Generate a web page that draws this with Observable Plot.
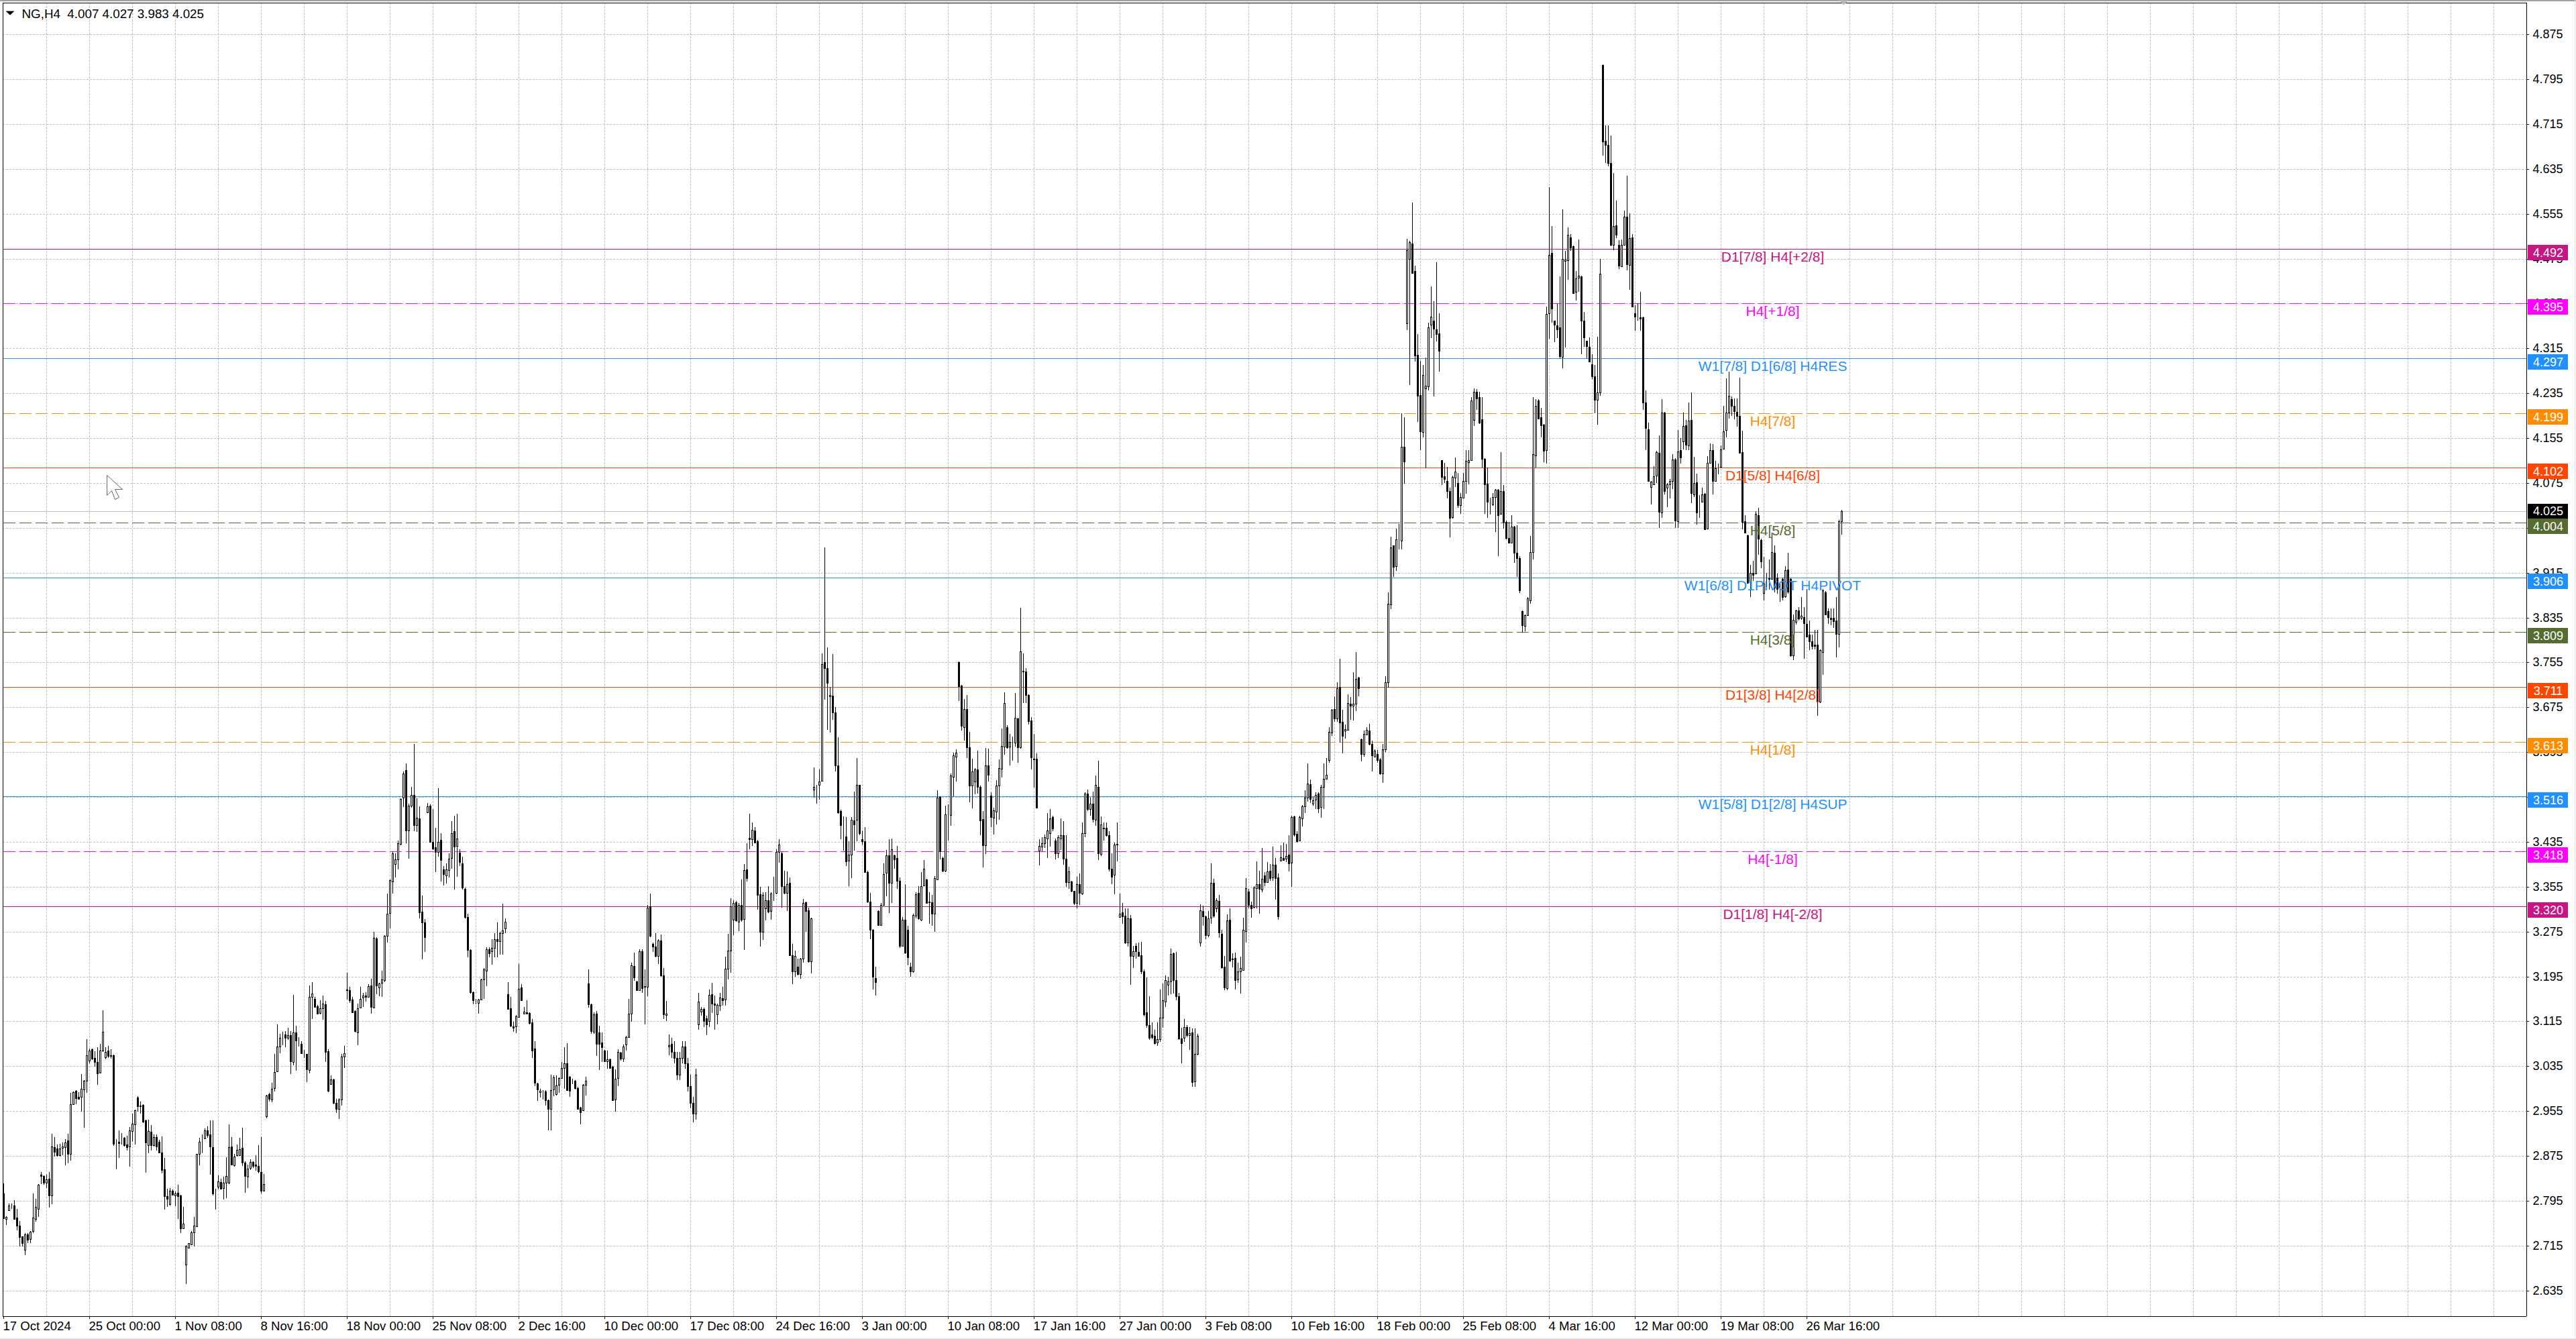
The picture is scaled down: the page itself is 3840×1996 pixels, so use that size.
<!DOCTYPE html>
<html><head><meta charset="utf-8">
<script src="https://cdn.jsdelivr.net/npm/d3@7"></script>
<script src="https://cdn.jsdelivr.net/npm/@observablehq/plot@0.6"></script>
<style>html,body{margin:0;padding:0;background:#fff}svg{display:block}</style>
</head><body><div id="chart"></div>
<script>
// every row: [open, close, high, low] in thousandths of the quote
const candlesOct=[[2808,2764,2826,2762],[2763,2766,2767,2752],[2778,2786,2790,2777],[2785,2785,2790,2780],[2786,2763,2796,2762],[2765,2750,2780,2742],[2751,2730,2759,2714],[2731,2719,2732,2713],[2707,2735,2737,2698],[2735,2726,2737,2719],[2727,2740,2741,2719],[2741,2765,2808,2737],[2763,2784,2799,2758],[2781,2823,2825,2766],[2842,2839,2846,2825],[2839,2827,2840,2824],[2827,2833,2841,2818],[2834,2804,2846,2783],[2804,2892,2915,2789],[2891,2882,2909,2874],[2888,2876,2895,2874],[2876,2888,2897,2874],[2889,2892,2899,2876],[2891,2899,2905,2858],[2902,2878,2915,2862],[2878,2967,2988,2867],[2967,2989,2990,2966],[2991,2978,2992,2967],[2980,2977,2989,2975],[2980,2995,3021,2954],[2994,3009,3010,2925],[3009,3054,3083,2988],[3045,3063,3066,3040],[3065,3049,3066,3046],[3050,3043,3062,3034],[3043,3022,3069,3002],[3023,3063,3075,3022],[3063,3096,3135,3061],[3051,3061,3069,3047],[3063,3053,3071,3050],[3055,3053,3065,3049],[3055,2897,3056,2893],[2899,2899,2905,2851],[2900,2898,2921,2872],[2907,2907,2916,2895],[2907,2894,2908,2892],[2895,2890,2911,2884],[2892,2920,2927,2856],[2919,2933,2950,2900],[2931,2956,2957,2895],[2979,2964,2981,2954],[2965,2963,2972,2950],[2966,2936,2967,2934],[2939,2899,2940,2845],[2894,2919,2940,2880],[2918,2894,2930,2885],[2894,2909,2913,2892],[2908,2892,2913,2885],[2900,2881,2904,2880],[2881,2850,2910,2844]];
const candlesNov=[[2851,2803,2872,2779],[2803,2798,2816,2784],[2789,2813,2817,2786],[2813,2806,2815,2804],[2805,2808,2812,2785],[2809,2803,2823,2762],[2805,2746,2806,2738],[2746,2754,2784,2745],[2681,2714,2716,2647],[2711,2719,2720,2710],[2717,2739,2741,2716],[2739,2750,2766,2713],[2749,2878,2879,2748],[2879,2900,2907,2858],[2907,2907,2913,2880],[2906,2920,2924,2905],[2920,2912,2928,2907],[2913,2892,2938,2841],[2891,2808,2938,2805],[2808,2808,2816,2779],[2820,2830,2840,2815],[2828,2816,2834,2815],[2817,2827,2838,2797],[2827,2839,2873,2800],[2827,2891,2931,2825],[2892,2860,2909,2858],[2858,2874,2878,2856],[2876,2886,2895,2874],[2876,2887,2907,2875],[2889,2863,2925,2857],[2863,2839,2866,2809],[2838,2852,2860,2818],[2853,2864,2869,2850],[2864,2857,2866,2853],[2859,2857,2876,2849],[2857,2848,2894,2844],[2846,2813,2909,2808],[2813,2825,2843,2811],[2946,2983,2984,2942],[2985,2977,2987,2972],[2975,2995,3005,2971],[2996,3025,3057,2990],[3026,3070,3110,3025],[3070,3085,3093,3058],[3090,3090,3096,3072],[3091,3085,3097,3069],[3086,3090,3104,3082],[3090,3044,3098,3021],[3043,3095,3162,3037],[3095,3081,3107,3027],[3077,3077,3087,3070],[3075,3058,3080,3058],[3057,3057,3064,3050],[3057,3029,3057,3007],[3028,3158,3179,3022],[3158,3165,3185,3119],[3155,3141,3158,3139],[3142,3129,3144,3128],[3130,3138,3153,3128],[3138,3146,3161,3118],[3145,3060,3151,3042],[3062,2991,3065,2989],[3003,3011,3019,3002],[3011,2970,3012,2967],[2970,2959,2977,2952],[2959,2976,2978,2941],[2976,3052,3057,2965],[3052,3058,3071,3032]];
const candlesDec=[[3170,3172,3201,3154],[3171,3153,3176,3148],[3154,3131,3158,3130],[3134,3097,3135,3095],[3095,3138,3146,3072],[3139,3155,3177,3138],[3157,3161,3166,3141],[3161,3158,3167,3150],[3159,3178,3181,3158],[3179,3141,3191,3129],[3139,3264,3275,3138],[3263,3179,3265,3163],[3175,3182,3184,3160],[3184,3190,3205,3159],[3188,3267,3269,3185],[3267,3307,3343,3256],[3308,3367,3368,3280],[3364,3414,3417,3343],[3395,3404,3415,3372],[3404,3433,3437,3386],[3431,3512,3513,3429],[3514,3557,3561,3497],[3563,3455,3575,3433],[3455,3500,3503,3405],[3500,3519,3533,3496],[3519,3465,3610,3454],[3465,3478,3513,3453],[3477,3309,3498,3298],[3310,3291,3339,3226],[3291,3265,3297,3239],[3487,3498,3504,3486],[3500,3435,3502,3434],[3435,3423,3493,3421],[3425,3417,3460,3381],[3417,3435,3531,3409],[3438,3403,3450,3364],[3386,3377,3392,3357],[3375,3386,3396,3361],[3385,3405,3414,3371],[3406,3451,3472,3387],[3454,3427,3482,3350],[3428,3441,3485,3373],[3416,3399,3422,3392],[3397,3353,3408,3350],[3351,3301,3353,3298],[3301,3242,3307,3229],[3242,3167,3243,3164],[3167,3153,3168,3145],[3154,3154,3155,3145],[3148,3154,3155,3129],[3154,3190,3191,3152],[3190,3207,3210,3155],[3205,3243,3247,3178],[3243,3236,3247,3229],[3240,3246,3261,3216],[3246,3262,3272,3229],[3261,3258,3291,3229],[3258,3272,3275,3234],[3272,3277,3325,3234],[3281,3293,3298,3272]];
const candlesJan1=[[3163,3137,3185,3136],[3138,3107,3158,3105],[3106,3103,3114,3096],[3106,3124,3126,3094],[3123,3173,3217,3122],[3175,3152,3181,3151],[3129,3132,3140,3129],[3131,3129,3152,3128],[3130,3112,3131,3110],[3113,3063,3119,3050],[3067,3005,3080,2999],[3004,2994,3005,2973],[2989,2991,2995,2979],[2990,2990,2992,2976],[2990,2974,2992,2965],[2974,2959,2975,2921],[2959,2992,3020,2920],[2994,3015,3018,2981],[2985,3001,3018,2983],[3002,3014,3015,2988],[3014,3032,3043,3013],[3032,3040,3069,2995],[3040,2992,3076,2991],[3016,2991,3017,2980],[3007,3006,3013,3003],[3009,2996,3010,2993],[2996,2959,2998,2958],[2961,2953,2962,2931],[2956,3002,3003,2955],[3002,3009,3016,2983],[3183,3145,3207,3139],[3145,3097,3146,3093],[3096,3128,3131,3093],[3129,3075,3133,3053],[3095,3075,3107,3028],[3077,3069,3095,3043],[3063,3044,3064,3043],[3044,3047,3063,3031],[3047,3032,3048,3031],[3034,2974,3035,2973],[2975,3013,3029,2954],[3014,3061,3065,2999],[3059,3049,3061,3045],[3048,3070,3074,3043],[3074,3087,3089,3063],[3087,3129,3155,3086],[3129,3215,3220,3114],[3214,3193,3238,3187],[3186,3171,3187,3169],[3171,3240,3243,3169],[3240,3174,3243,3166],[3176,3178,3208,3110],[3176,3318,3323,3160],[3320,3267,3343,3265],[3253,3248,3256,3239],[3248,3231,3272,3229],[3231,3259,3261,3217],[3259,3197,3270,3194],[3197,3128,3210,3119],[3126,3129,3151,3116],[3070,3072,3092,3054],[3075,3060,3085,3050],[3060,3050,3080,3040],[3050,3020,3060,3010],[3020,3050,3060,3010],[3050,3070,3080,3040],[3070,3040,3080,3030],[3040,3000,3050,2990],[3000,2970,3020,2960],[2970,2950,2980,2935],[2950,3020,3030,2940]];
const candlesJan2=[[3110,3150,3166,3100],[3132,3137,3140,3125],[3137,3115,3139,3105],[3120,3110,3125,3090],[3115,3162,3172,3105],[3163,3147,3184,3130],[3146,3144,3161,3100],[3128,3144,3146,3110],[3143,3157,3166,3133],[3156,3153,3177,3143],[3154,3209,3230,3143],[3209,3241,3271,3190],[3241,3320,3334,3202],[3296,3326,3331,3268],[3327,3295,3330,3293],[3293,3323,3326,3276],[3322,3296,3368,3293],[3297,3385,3395,3242],[3386,3370,3433,3364],[3442,3440,3485,3422],[3440,3456,3470,3428],[3455,3434,3461,3432],[3436,3340,3439,3314],[3341,3275,3355,3248],[3275,3340,3345,3260],[3317,3331,3345,3295],[3331,3310,3356,3308],[3312,3343,3345,3296],[3345,3345,3373,3330],[3344,3417,3422,3342],[3417,3430,3440,3398],[3415,3356,3417,3318],[3356,3344,3384,3342],[3344,3360,3382,3312],[3362,3233,3371,3232],[3233,3204,3253,3181],[3204,3231,3241,3194],[3212,3199,3227,3197],[3199,3227,3228,3191],[3227,3326,3333,3220],[3327,3312,3329,3274],[3313,3222,3318,3220],[3222,3298,3300,3200],[3528,3533,3568,3514],[3533,3533,3537,3503],[3536,3543,3564,3510],[3544,3752,3771,3543],[3756,3745,3960,3689],[3745,3718,3782,3635],[3694,3697,3711,3630],[3696,3666,3770,3653],[3666,3571,3675,3561],[3571,3487,3622,3485],[3490,3465,3492,3440],[3464,3463,3480,3419],[3445,3400,3479,3392],[3401,3412,3436,3356],[3412,3474,3479,3370],[3473,3466,3525,3419],[3474,3536,3585,3436],[3536,3451,3537,3447],[3440,3436,3455,3430],[3436,3381,3461,3380],[3381,3328,3384,3326],[3328,3278,3344,3261],[3278,3194,3279,3172],[3192,3185,3212,3161]];
const candlesFeb1=[[3312,3286,3313,3285],[3286,3322,3326,3285],[3323,3378,3396,3322],[3380,3411,3420,3338],[3411,3362,3440,3308],[3362,3422,3441,3326],[3411,3404,3412,3387],[3406,3366,3428,3351],[3366,3250,3371,3246],[3249,3296,3301,3248],[3296,3237,3359,3235],[3278,3229,3285,3215],[3212,3204,3219,3194],[3204,3305,3307,3202],[3303,3342,3345,3298],[3344,3298,3356,3296],[3296,3356,3381,3294],[3357,3387,3403,3356],[3368,3326,3369,3325],[3328,3327,3345,3289],[3327,3307,3340,3285],[3307,3370,3374,3274],[3368,3514,3527,3367],[3515,3418,3516,3404],[3406,3384,3408,3381],[3384,3484,3499,3381],[3484,3484,3502,3437],[3483,3553,3557,3463],[3551,3589,3594,3516],[3587,3594,3600,3543],[3756,3712,3757,3686],[3714,3642,3715,3634],[3639,3672,3690,3615],[3672,3604,3697,3584],[3604,3535,3631,3505],[3535,3561,3583,3495],[3542,3564,3566,3520],[3564,3533,3597,3521],[3533,3473,3535,3447],[3476,3429,3490,3389],[3429,3571,3602,3413],[3571,3555,3601,3542],[3518,3479,3524,3461],[3478,3491,3496,3448],[3489,3535,3545,3466],[3535,3567,3582,3474],[3565,3606,3637,3550],[3605,3682,3702,3590],[3640,3604,3643,3601],[3605,3613,3628,3571],[3612,3612,3623,3580],[3612,3656,3700,3605],[3655,3604,3656,3576],[3604,3775,3852,3601],[3740,3739,3771,3683],[3739,3697,3745,3682],[3697,3650,3698,3644],[3651,3586,3657,3564],[3583,3582,3627,3532],[3583,3496,3593,3495],[3419,3428,3440,3393],[3426,3433,3443,3418],[3433,3443,3448,3424]];
const candlesFeb2=[[3441,3455,3486,3406],[3450,3477,3494,3426],[3479,3459,3482,3454],[3437,3414,3441,3404],[3415,3443,3447,3406],[3441,3447,3477,3420],[3447,3405,3472,3394],[3405,3363,3447,3355],[3363,3382,3391,3351],[3364,3348,3366,3345],[3347,3326,3348,3323],[3326,3359,3373,3317],[3359,3344,3379,3323],[3343,3450,3469,3340],[3451,3521,3524,3443],[3521,3494,3528,3490],[3494,3503,3514,3482],[3503,3475,3525,3469],[3474,3536,3553,3464],[3533,3415,3580,3402],[3413,3466,3480,3410],[3460,3459,3469,3437],[3460,3447,3469,3445],[3447,3387,3454,3382],[3387,3373,3415,3359],[3376,3430,3434,3342],[3430,3431,3470,3400],[3301,3307,3343,3300],[3309,3302,3326,3289],[3303,3256,3316,3253],[3256,3299,3316,3248],[3298,3231,3304,3180],[3232,3240,3249,3210],[3250,3240,3254,3227],[3239,3232,3256,3231],[3233,3204,3257,3199],[3204,3127,3207,3124],[3131,3108,3193,3104],[3108,3086,3160,3082],[3092,3087,3113,3083],[3089,3076,3100,3073],[3077,3083,3113,3071],[3083,3122,3172,3078],[3122,3152,3182,3103],[3150,3189,3197,3141],[3180,3186,3195,3161],[3186,3235,3245,3163],[3236,3188,3237,3165],[3188,3160,3239,3152],[3160,3084,3166,3082],[3084,3076,3104,3040],[3086,3105,3119,3078],[3105,3090,3108,3087],[3090,3094,3105,3064],[3095,3007,3102,2998],[3008,3057,3102,2998],[3057,3089,3093,3055]];
const candlesFeb3=[[3256,3313,3324,3248],[3312,3302,3321,3285],[3302,3268,3303,3262],[3268,3299,3312,3265],[3300,3362,3396,3289],[3362,3303,3369,3300],[3316,3331,3334,3309],[3330,3273,3340,3264],[3271,3211,3278,3209],[3212,3175,3231,3171],[3174,3295,3306,3171],[3296,3223,3316,3221],[3227,3226,3236,3211],[3228,3189,3237,3172],[3190,3204,3220,3184],[3204,3210,3230,3165],[3206,3278,3300,3206],[3276,3352,3370,3256],[3346,3323,3351,3317],[3323,3317,3329,3300],[3319,3353,3356,3317],[3352,3359,3400,3316],[3359,3351,3384,3307],[3350,3369,3424,3345],[3375,3363,3381,3356],[3363,3382,3399,3362],[3384,3370,3395,3365],[3371,3394,3426,3365],[3394,3370,3406,3332],[3371,3302,3379,3296],[3401,3407,3429,3400],[3406,3403,3434,3402],[3405,3410,3431,3399],[3412,3397,3447,3382],[3398,3479,3482,3355],[3480,3448,3482,3445],[3449,3436,3454,3434],[3437,3479,3482,3436],[3477,3498,3501,3462],[3498,3514,3527,3486],[3514,3539,3575,3507],[3538,3511,3546,3504],[3503,3509,3515,3500],[3510,3519,3523,3493],[3521,3495,3523,3486],[3497,3533,3537,3478],[3533,3547,3575,3493],[3547,3555,3585,3546],[3581,3631,3639,3576],[3630,3671,3672,3624],[3672,3655,3695,3649],[3655,3709,3720,3649],[3711,3648,3762,3612],[3649,3624,3671,3593],[3633,3636,3644,3619],[3635,3682,3698,3633],[3681,3678,3693,3653],[3678,3681,3737,3651],[3681,3726,3774,3668],[3728,3709,3729,3694],[3618,3591,3619,3579],[3592,3628,3633,3587],[3626,3635,3640,3626],[3634,3609,3646,3607],[3610,3589,3616,3560],[3587,3597,3600,3586],[3592,3581,3599,3576],[3582,3557,3585,3555],[3557,3600,3610,3540],[3600,3720,3730,3595],[3720,3860,3880,3710]];
const candlesMar1=[[3858,3960,3979,3850],[3964,3925,3964,3908],[3926,3975,3994,3918],[3975,3975,4002,3956],[3972,4140,4199,3957],[4139,4113,4192,4074],[4360,4490,4510,4348],[4474,4504,4507,4249],[4502,4449,4575,4448],[4453,4302,4463,4291],[4303,4230,4340,4184],[4232,4167,4293,4134],[4166,4267,4286,4156],[4244,4248,4299,4101],[4247,4353,4361,4240],[4357,4371,4426,4333],[4364,4350,4399,4229],[4349,4340,4469,4327],[4342,4310,4378,4273],[4115,4086,4116,4071],[4087,4082,4111,4075],[4079,4060,4104,4047],[4060,4013,4066,3978],[4014,4086,4088,4012],[4084,4095,4120,4068],[4075,4035,4093,4031],[4036,4050,4057,4020],[4048,4079,4093,4047],[4079,4114,4133,4056],[4112,4115,4133,4073],[4115,4222,4228,4114],[4187,4238,4243,4177],[4238,4226,4242,4205],[4228,4183,4238,4180],[4188,4118,4228,4102],[4118,4073,4119,4020],[4074,4042,4102,4013],[4037,4037,4049,4019],[4037,4050,4057,4034],[4050,4063,4064,3987],[4063,4017,4064,3945],[4020,4061,4130,4019],[4061,4005,4071,3994],[4006,3977,4008,3975],[3977,3969,4005,3968],[3969,3997,4017,3968],[3997,3950,3998,3933],[3951,3941,3999,3908],[3941,3883,3945,3879],[3847,3821,3848,3808],[3820,3839,3840,3810],[3839,3869,3871,3838],[3865,3952,3980,3859],[3952,4126,4228,3939],[4124,4212,4225,4102],[4222,4190,4225,4189],[4192,4178,4209,4156],[4179,4132,4180,4112],[4133,4376,4390,4110],[4377,4482,4602,4332],[4485,4386,4533,4361],[4364,4357,4365,4326],[4356,4349,4394,4333],[4352,4301,4443,4298],[4300,4474,4563,4279],[4471,4473,4489,4317],[4472,4517,4531,4437],[4513,4495,4519,4489],[4497,4414,4498,4413],[4416,4440,4453,4400],[4441,4445,4509,4416],[4443,4364,4444,4305],[4364,4334,4380,4318],[4328,4319,4329,4298],[4318,4291,4334,4290],[4287,4265,4305,4260],[4265,4223,4286,4199],[4223,4236,4336,4179],[4236,4448,4474,4231]];
const candlesMar2=[[4820,4684,4822,4659],[4685,4678,4712,4645],[4678,4645,4713,4640],[4645,4499,4695,4497],[4500,4533,4628,4490],[4534,4518,4578,4512],[4500,4463,4508,4457],[4461,4499,4509,4460],[4500,4550,4561,4499],[4550,4465,4623,4454],[4464,4512,4556,4419],[4513,4390,4519,4388],[4378,4371,4392,4346],[4370,4370,4396,4364],[4370,4368,4416,4346],[4370,4219,4371,4205],[4219,4173,4240,4133],[4171,4079,4183,4077],[4068,4077,4078,4037],[4073,4087,4105,4073],[4088,4130,4132,4075],[4129,4023,4160,3995],[4022,4200,4225,4013],[4200,4061,4202,4055],[4066,4073,4075,4032],[4072,4079,4082,4047],[4079,4117,4126,4064],[4117,4008,4119,3995],[4007,4131,4169,3995],[4134,4120,4155,4110],[4149,4176,4200,4135],[4178,4143,4187,4133],[4142,4186,4219,4133],[4187,4057,4237,4039],[4055,4075,4121,4050],[4076,4022,4092,4001],[4041,4041,4053,4013],[4041,4055,4066,4040],[4056,3992,4057,3991],[3993,4111,4123,3992],[4111,4134,4145,4110],[4134,4079,4144,4055],[4079,4101,4114,4078],[4104,4104,4110,4091],[4104,4135,4142,4103],[4136,4167,4212,4135],[4170,4200,4261,4156],[4201,4231,4274,4190],[4225,4213,4229,4194],[4213,4203,4226,4188],[4202,4194,4226,4175],[4194,4129,4263,4127],[4130,4006,4168,3992],[4007,3986,4018,3985],[3982,3897,3983,3895],[3899,3915,3929,3872],[3915,3911,3936,3900],[3913,4020,4025,3912],[4018,3976,4031,3947],[3973,3935,3976,3923],[3879,3895,3943,3865],[3906,3906,3915,3890],[3905,3904,3938,3885],[3904,3952,3986,3903],[3950,3888,3964,3880],[3906,3886,3913,3878],[3880,3880,3896,3863],[3904,3872,3906,3865],[3873,3919,3926,3870],[3920,3881,3951,3877],[3904,3768,3905,3765],[3768,3831,3840,3759],[3827,3848,3849,3823],[3848,3833,3853,3830],[3834,3838,3871,3831],[3836,3825,3853,3762],[3824,3801,3886,3800],[3804,3793,3830,3777],[3793,3784,3804,3778],[3786,3784,3813,3778],[3787,3685,3813,3660],[3685,3777,3778,3682],[3774,3884,3886,3733],[3880,3841,3882,3840],[3847,3836,3851,3824],[3834,3832,3851,3821],[3835,3829,3851,3817],[3830,3806,3871,3764],[3806,4007,4009,3782],[4007,4025,4027,3983]];

const levelPrices=[4.492,4.395,4.297,4.199,4.102,4.004,3.906,3.809,3.711,3.613,3.516,3.418,3.320];
const levelColors=["#C71585","#FF00FF","#1E90FF","#FF8C00","#FF4500","#556B2F","#1E90FF","#556B2F","#FF4500","#FF8C00","#1E90FF","#FF00FF","#C71585"];
const levelDashed=[false,true,false,true,false,true,false,true,false,true,false,true,false];
const levelLabels=["D1[7/8] H4[+2/8]","H4[+1/8]","W1[7/8] D1[6/8] H4RES","H4[7/8]","D1[5/8] H4[6/8]","H4[5/8]","W1[6/8] D1PIVOT H4PIVOT","H4[3/8]","D1[3/8] H4[2/8]","H4[1/8]","W1[5/8] D1[2/8] H4SUP","H4[-1/8]","D1[1/8] H4[-2/8]"];
const priceTicks=[4.875,4.795,4.715,4.635,4.555,4.475,4.395,4.315,4.235,4.155,4.075,3.995,3.915,3.835,3.755,3.675,3.595,3.515,3.435,3.355,3.275,3.195,3.115,3.035,2.955,2.875,2.795,2.715,2.635];
const dateTickBars=[0,32,64,96,128,160,192,224,256,288,320,352,384,416,448,480,512,544,576,608,640,672];
const dateTickLabels=["17 Oct 2024","25 Oct 00:00","1 Nov 08:00","8 Nov 16:00","18 Nov 00:00","25 Nov 08:00","2 Dec 16:00","10 Dec 00:00","17 Dec 08:00","24 Dec 16:00","3 Jan 00:00","10 Jan 08:00","17 Jan 16:00","27 Jan 00:00","3 Feb 08:00","10 Feb 16:00","18 Feb 00:00","25 Feb 08:00","4 Mar 16:00","12 Mar 00:00","19 Mar 08:00","26 Mar 16:00"];
const gridBars=[16,32,48,64,80,96,112,128,144,160,176,192,208,224,240,256,272,288,304,320,336,352,368,384,400,416,432,448,464,480,496,512,528,544,560,576,592,608,624,640,656,672,688,704,720,736,752,768,784,800,816,832,848,864,880,896,912,928];
const headerText="NG,H4\u00a0\u00a04.007 4.027 3.983 4.025";
const lastPrice=4.025;

const candles=[...candlesOct,...candlesNov,...candlesDec,...candlesJan1,...candlesJan2,...candlesFeb1,...candlesFeb2,...candlesFeb3,...candlesMar1,...candlesMar2]
  .map((r,i)=>({i,open:r[0]/1000,close:r[1]/1000,high:r[2]/1000,low:r[3]/1000}));
const levels=levelPrices.map((p,k)=>({p,color:levelColors[k],dashed:levelDashed[k],label:levelLabels[k]}));
const dates=dateTickBars.map((b,k)=>({b,label:dateTickLabels[k]}));

// pixel helpers for chart furniture only (frame, boxes, header)
const PX=835.9;
const ix=px=>(px-5)/4;
const dp=px=>px/PX;
const py=px=>4.875-(px-51.2)/PX;
const font="'Liberation Sans',Arial,sans-serif";
const L=ix(4),R=ix(3766);
const up=candles.filter(d=>d.close>=d.open), down=candles.filter(d=>d.close<d.open);
const cursorSymbol={draw(c){c.moveTo(0,0);c.lineTo(0,30);c.lineTo(7,23);c.lineTo(12,36);c.lineTo(18,33);c.lineTo(12,21);c.lineTo(23,21);c.closePath();}};
const markerSymbol={draw(c){c.moveTo(-7,-3);c.lineTo(7,-3);c.lineTo(0,4);c.closePath();}};
const downSymbol={draw(c){c.moveTo(-6.5,-3);c.lineTo(6.5,-3);c.lineTo(0,3);c.closePath();}};

const chart=Plot.plot({
  width:3840,height:1996,margin:0,
  style:{background:"#fff",overflow:"visible"},
  x:{axis:null,type:"linear",domain:[-1.25,958.75],range:[0,3840]},
  y:{axis:null,type:"linear",domain:[py(0),py(1996)],range:[0,1996],round:true},
  marks:[
    // window edges
    Plot.ruleY([py(0)],{x1:ix(0),x2:ix(3840),stroke:"#a0a0a0",strokeWidth:3}),
    Plot.ruleX([ix(0)],{y1:py(0),y2:py(1996),stroke:"#a0a0a0",strokeWidth:2,dx:-4}),
    Plot.ruleX([ix(3838)],{y1:py(0),y2:py(1996),stroke:"#e0e0e0",strokeWidth:1}),
    Plot.ruleY([py(1995)],{x1:ix(0),x2:ix(3840),stroke:"#e0e0e0",strokeWidth:1}),
    // grid
    Plot.ruleY(priceTicks,{x1:L,x2:R,stroke:"#c0c0c0",strokeDasharray:"3 2"}),
    Plot.ruleX(gridBars,{y1:py(4),y2:py(1962),stroke:"#c0c0c0",strokeDasharray:"3 2"}),
    // level lines
    Plot.ruleY(levels.filter(d=>!d.dashed),{y:"p",x1:ix(5),x2:R,stroke:"color"}),
    Plot.ruleY(levels.filter(d=>d.dashed),{y:"p",x1:ix(5),x2:R,stroke:"color",strokeDasharray:"18 6"}),
    Plot.ruleY([lastPrice],{x1:ix(5),x2:R,stroke:"#c0c0c0"}),
    // candles
    Plot.ruleX(candles,{x:"i",y1:"low",y2:"high",stroke:"#000"}),
    Plot.rect(down,{x1:d=>d.i-0.125,x2:d=>d.i+0.375,y1:"open",y2:"close",fill:"#000",stroke:"#000",dy:0.5}),
    Plot.rect(up,{x1:d=>d.i-0.125,x2:d=>d.i+0.375,y1:"open",y2:"close",fill:"#fff",stroke:"#000",dy:0.5}),
    // level labels
    Plot.text(levels,{x:ix(2642),y:d=>d.p-dp(11.5),text:"label",fill:"color",fontSize:21,fontFamily:font,textAnchor:"middle"}),
    // frame
    Plot.ruleX([L,R],{y1:py(4),y2:py(1962),stroke:"#000"}),
    Plot.ruleY([py(4),py(1962)],{x1:L,x2:R,stroke:"#000"}),
    // price axis
    Plot.ruleY(priceTicks,{x1:R,x2:ix(3770),stroke:"#000"}),
    Plot.text(priceTicks,{x:ix(3775),y:d=>d,text:d=>d.toFixed(3),fill:"#000",fontSize:18,fontFamily:font,textAnchor:"start"}),
    // time axis
    Plot.ruleX(dates,{x:"b",y1:py(1962),y2:py(1966),stroke:"#000"}),
    Plot.text(dates,{x:d=>d.b-0.25,y:py(1977),text:"label",fill:"#000",fontSize:18.6,fontFamily:font,textAnchor:"start"}),
    // current price and level boxes
    Plot.rect([lastPrice],{x1:ix(3768),x2:ix(3828),y1:d=>d+dp(11),y2:d=>d-dp(11),fill:"#000"}),
    Plot.text([lastPrice],{x:ix(3798),y:d=>d,text:d=>d.toFixed(3),fill:"#fff",fontSize:18,fontFamily:font,textAnchor:"middle"}),
    Plot.rect(levels,{x1:ix(3768),x2:ix(3828),y1:d=>d.p+dp(6),y2:d=>d.p-dp(17),fill:"color"}),
    Plot.text(levels,{x:ix(3798),y:d=>d.p-dp(5.5),text:d=>d.p.toFixed(3),fill:"#fff",fontSize:18,fontFamily:font,textAnchor:"middle"}),
    // header
    Plot.dot([0],{x:ix(14.5),y:py(19),symbol:downSymbol,fill:"#000",stroke:"none"}),
    Plot.text([headerText],{x:ix(32),y:py(19.5),text:d=>d,fill:"#000",fontSize:18.8,fontFamily:font,textAnchor:"start"}),
    // shift marker and mouse cursor captured in the screenshot
    Plot.dot([0],{x:ix(2748),y:py(3),symbol:markerSymbol,fill:"#b8b8b8",stroke:"none"}),
    Plot.dot([0],{x:ix(159),y:py(708),symbol:cursorSymbol,fill:"#fff",stroke:"#666",strokeWidth:1})
  ]
});
document.getElementById("chart").appendChild(chart);
</script></body></html>
